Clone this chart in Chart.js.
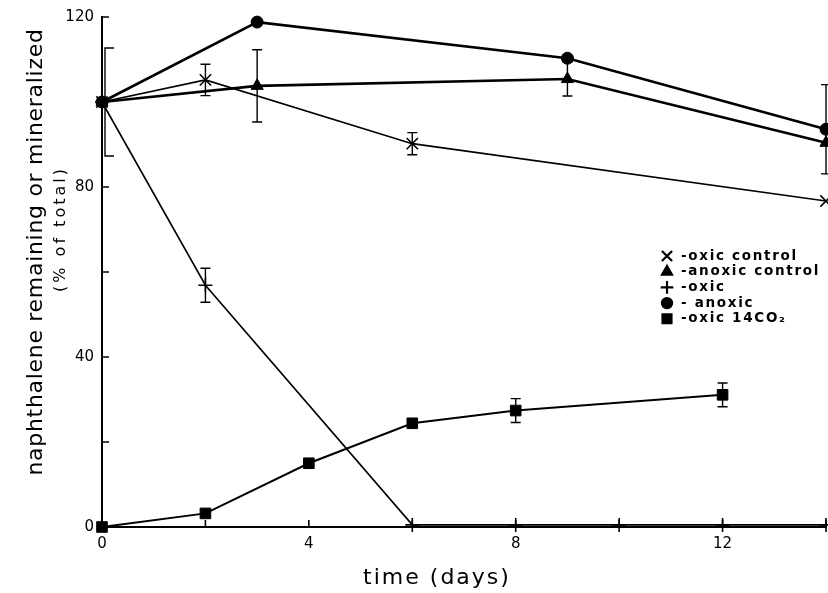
<!DOCTYPE html>
<html>
<head>
<meta charset="utf-8">
<script src="https://cdn.jsdelivr.net/npm/chart.js@4.4.1/dist/chart.umd.min.js"></script>
<style>
  html, body { margin: 0; padding: 0; background: #fff; }
  #wrap { width: 828px; height: 593px; }
</style>
</head>
<body>
<div id="wrap"><canvas id="chart" width="828" height="593"></canvas></div>
<script>
// Labelled ticks (minor ticks every 2 days / 20 %)
const xTickLabels = [0, 4, 8, 12];
const yTickLabels = [0, 40, 80, 120];

// Series names as printed in the key
const seriesNames = ['oxic control', 'anoxic control', 'oxic', 'anoxic', 'oxic 14CO\u2082'];

// oxic control (x)
const oxicControlDays = [0, 2, 6, 14];
const oxicControl = [100, 105.2, 90.2, 76.7];
const oxicControlErr = [0, 3.7, 2.6, 0];

// anoxic control (triangle)
const anoxicControlDays = [0, 3, 9, 14];
const anoxicControl = [100, 103.8, 105.4, 90.4];
const anoxicControlErr = [0, 8.5, 4, 0];

// oxic (+)
const oxicDays = [0, 2, 6, 8, 10, 12, 14];
const oxic = [100, 56.9, 0.5, 0.5, 0.5, 0.5, 0.5];
const oxicErr = [0, 4, 0, 0, 0, 0, 0];

// anoxic (circle)
const anoxicDays = [0, 3, 9, 14];
const anoxic = [100, 118.8, 110.3, 93.6];
const anoxicErr = [12.7, 0, 0, 10.5];

// oxic 14CO2 mineralized (square)
const co2Days = [0, 2, 4, 6, 8, 12];
const co2 = [0, 3.2, 15, 24.4, 27.4, 31.1];
const co2Err = [0, 0, 0, 0, 2.8, 2.8];

const toPoints = (days, vals) => days.map((d, i) => ({ x: d, y: vals[i] }));
const FONT = "'DejaVu Sans', sans-serif";

const datasets = [
  { label: seriesNames[0], data: toPoints(oxicControlDays, oxicControl), errors: oxicControlErr,
    pointStyle: 'crossRot', pointRadius: 8, borderWidth: 1.6, pointBorderWidth: 1.6 },
  { label: seriesNames[1], data: toPoints(anoxicControlDays, anoxicControl), errors: anoxicControlErr,
    pointStyle: 'triangle', pointRadius: 7, borderWidth: 2.6, pointBorderWidth: 1 },
  { label: seriesNames[2], data: toPoints(oxicDays, oxic), errors: oxicErr,
    pointStyle: 'cross', pointRadius: 7, borderWidth: 1.6, pointBorderWidth: 1.6 },
  { label: seriesNames[3], data: toPoints(anoxicDays, anoxic), errors: anoxicErr,
    pointStyle: 'circle', pointRadius: 6, borderWidth: 2.6, pointBorderWidth: 1 },
  { label: seriesNames[4], data: toPoints(co2Days, co2), errors: co2Err,
    pointStyle: 'rect', pointRadius: 7.5, borderWidth: 2, pointBorderWidth: 1 }
].map(ds => Object.assign({
  showLine: true,
  borderColor: '#000',
  backgroundColor: '#000',
  pointBackgroundColor: '#000',
  pointBorderColor: '#000',
  tension: 0,
  clip: false
}, ds));

// Inward tick marks along both axes
const tickMarks = {
  id: 'tickMarks',
  afterDraw(chart) {
    const { ctx, scales: { x, y } } = chart;
    const len = 7;
    ctx.save();
    ctx.strokeStyle = '#000';
    ctx.lineWidth = 1.6;
    ctx.beginPath();
    for (let d = 2; d <= x.max; d += 2) {
      const px = x.getPixelForValue(d);
      ctx.moveTo(px, y.bottom);
      ctx.lineTo(px, y.bottom - len);
    }
    for (let v = 20; v <= y.max; v += 20) {
      const py = y.getPixelForValue(v);
      ctx.moveTo(x.left, py);
      ctx.lineTo(x.left + len, py);
    }
    ctx.stroke();
    ctx.restore();
  }
};

// Vertical error bars; on the y axis itself only the inner half of each cap is drawn
const errorBars = {
  id: 'errorBars',
  afterDatasetsDraw(chart) {
    const { ctx, scales: { x, y } } = chart;
    ctx.save();
    ctx.strokeStyle = '#000';
    ctx.lineWidth = 1.4;
    chart.data.datasets.forEach((ds, i) => {
      const meta = chart.getDatasetMeta(i);
      (ds.errors || []).forEach((e, j) => {
        if (!e) return;
        const pt = ds.data[j];
        let px = meta.data[j].x;
        const top = y.getPixelForValue(pt.y + e);
        const bot = y.getPixelForValue(pt.y - e);
        ctx.beginPath();
        if (pt.x === x.min) {
          px = x.left + 3;
          ctx.moveTo(px + 9, top); ctx.lineTo(px, top);
          ctx.lineTo(px, bot); ctx.lineTo(px + 9, bot);
        } else {
          ctx.moveTo(px, top); ctx.lineTo(px, bot);
          ctx.moveTo(px - 5, top); ctx.lineTo(px + 5, top);
          ctx.moveTo(px - 5, bot); ctx.lineTo(px + 5, bot);
        }
        ctx.stroke();
      });
    });
    ctx.restore();
  }
};

// Key inside the plot and the axis titles
const annotations = {
  id: 'annotations',
  afterDraw(chart) {
    const { ctx } = chart;
    ctx.save();
    ctx.fillStyle = '#000';
    ctx.strokeStyle = '#000';

    // key
    const keyX = 667, keyY0 = 256, rowH = 15.7;
    chart.data.datasets.forEach((ds, i) => {
      const cy = keyY0 + i * rowH;
      ctx.lineWidth = ds.pointBorderWidth + 0.6;
      Chart.helpers.drawPoint(ctx, {
        pointStyle: ds.pointStyle,
        radius: ds.pointRadius * 0.9,
        rotation: 0,
        borderWidth: ds.pointBorderWidth + 0.6
      }, keyX, cy);
      ctx.fillStyle = '#000';
      ctx.font = `bold 13.5px ${FONT}`;
      ctx.letterSpacing = '1.7px';
      ctx.textAlign = 'left';
      ctx.textBaseline = 'middle';
      ctx.fillText((i === 3 ? '- ' : '-') + ds.label, keyX + 14, cy);
    });

    // x-axis title
    ctx.font = `22px ${FONT}`;
    ctx.letterSpacing = '2px';
    ctx.textAlign = 'center';
    ctx.textBaseline = 'alphabetic';
    ctx.fillText('time (days)', 437, 584);

    // y-axis title (two lines, rotated)
    ctx.save();
    ctx.rotate(-Math.PI / 2);
    ctx.font = `22px ${FONT}`;
    ctx.letterSpacing = '0.7px';
    ctx.textAlign = 'center';
    ctx.textBaseline = 'alphabetic';
    ctx.fillText('naphthalene remaining or mineralized', -252, 42);
    ctx.font = `16px ${FONT}`;
    ctx.letterSpacing = '3px';
    ctx.fillText('(% of total)', -229, 65);
    ctx.restore();

    ctx.restore();
  }
};

new Chart(document.getElementById('chart'), {
  type: 'scatter',
  data: { datasets },
  plugins: [tickMarks, errorBars, annotations],
  options: {
    responsive: false,
    animation: false,
    devicePixelRatio: 1,
    layout: { autoPadding: false, padding: { top: 17, right: 2, left: 0, bottom: 0 } },
    plugins: { legend: { display: false }, tooltip: { enabled: false } },
    scales: {
      x: {
        type: 'linear', min: 0, max: 14,
        grid: { display: false, drawTicks: false },
        border: { display: true, color: '#000', width: 2 },
        ticks: {
          stepSize: 2, autoSkip: false, maxRotation: 0, padding: 8,
          color: '#000', font: { family: FONT, size: 15 },
          callback: v => xTickLabels.includes(v) ? String(v) : ''
        },
        // the unlabelled last tick needs no room at the right edge
        afterFit: s => { s.height = 66; s.paddingRight = 0; }
      },
      y: {
        type: 'linear', min: 0, max: 120,
        grid: { display: false, drawTicks: false },
        border: { display: true, color: '#000', width: 2 },
        ticks: {
          stepSize: 20, autoSkip: false, padding: 8,
          color: '#000', font: { family: FONT, size: 15 },
          callback: v => yTickLabels.includes(v) ? String(v) : ''
        },
        afterFit: s => { s.width = 102; }
      }
    }
  }
});
</script>
</body>
</html>
